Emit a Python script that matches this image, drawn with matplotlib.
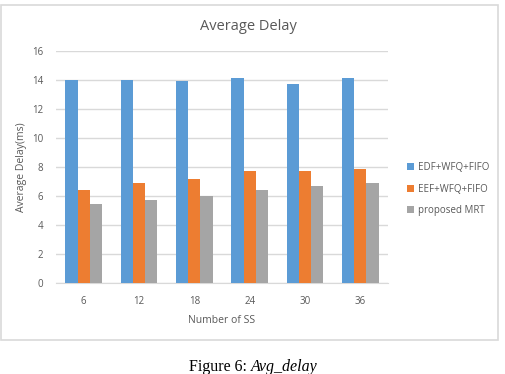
import numpy as np
import matplotlib.pyplot as plt
from matplotlib.patches import Rectangle

# -----------------------------
# Data
# -----------------------------
num_ss = ["6", "12", "18", "24", "30", "36"]
edf_wfq_fifo = [14.0, 14.0, 13.93, 14.14, 13.72, 14.14]
eef_wfq_fifo = [6.41, 6.9, 7.17, 7.72, 7.72, 7.86]
proposed_mrt = [5.45, 5.72, 6.0, 6.41, 6.69, 6.9]
series_names = ["EDF+WFQ+FIFO", "EEF+WFQ+FIFO", "proposed MRT"]
y_ticks = [0, 2, 4, 6, 8, 10, 12, 14, 16]

colors = ["#5B9BD5", "#ED7D31", "#A5A5A5"]
text_col = "#595959"
W, H = 506, 374

plt.rcParams['font.family'] = ['Open Sans', 'DejaVu Sans']

fig = plt.figure(figsize=(W / 100, H / 100), dpi=100)

# chart frame
fig.patches.append(Rectangle((1.5 / W, 1 - 340 / H), 497 / W, 335 / H,
                             transform=fig.transFigure, fill=False,
                             edgecolor="#D9D9D9", linewidth=1.2))

# plot area (pixel coords -> figure fractions)
left, right, top, bottom = 56, 388, 51, 283
ax = fig.add_axes([left / W, 1 - bottom / H, (right - left) / W, (bottom - top) / H])

x = np.arange(len(num_ss))
bw = 0.222
for i, (vals, name) in enumerate(zip([edf_wfq_fifo, eef_wfq_fifo, proposed_mrt], series_names)):
    ax.bar(x + (i - 1) * bw, vals, bw, color=colors[i], label=name, zorder=3)

ax.set_xlim(-0.5, len(num_ss) - 0.5)
ax.set_ylim(0, 16)
ax.set_yticks(y_ticks)
ax.set_xticks(x)
ax.set_xticklabels(num_ss)
ax.yaxis.grid(True, color="#D9D9D9", linewidth=1, zorder=0)
for s in ["top", "right", "left"]:
    ax.spines[s].set_visible(False)
ax.spines["bottom"].set_color("#D9D9D9")
ax.tick_params(axis="both", length=0, colors=text_col, labelsize=7)
ax.tick_params(axis="x", pad=9)
ax.tick_params(axis="y", pad=9)

ax.set_xlabel("Number of SS", fontsize=7.5, color=text_col, labelpad=6)
ax.set_ylabel("Average Delay(ms)", fontsize=7.5, color=text_col)
ax.yaxis.set_label_coords(-(56 - 27) / (right - left), 0.5)

fig.text(248 / W, 1 - 27 / H, "Average Delay", ha="center", va="center",
         fontsize=10.5, color=text_col)

ax.legend(loc="center left", bbox_to_anchor=(1.03, 0.405), frameon=False,
          fontsize=7, labelcolor=text_col, handlelength=0.7, handleheight=0.7,
          handletextpad=0.5, labelspacing=1.1)

fig.text(251 / W, 1 - 367 / H, "Figure 6: ", ha="right", va="center",
         fontsize=11.5, family="Liberation Serif", color="black")
fig.text(251 / W, 1 - 367 / H, "Avg_delay", ha="left", va="center",
         fontsize=11.5, family="Liberation Serif", style="italic", color="black")

fig.savefig("out.png", dpi=100)
